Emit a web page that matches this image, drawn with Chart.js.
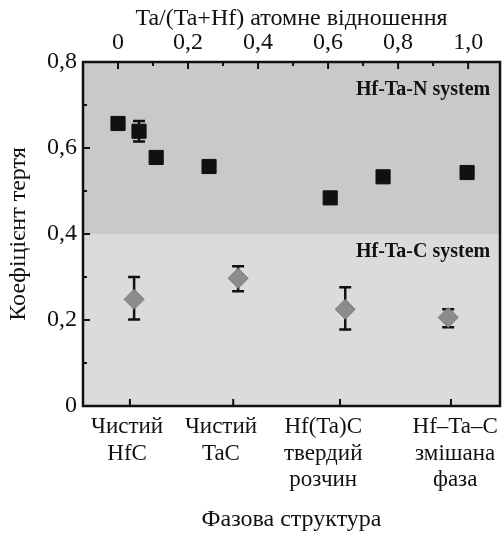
<!DOCTYPE html>
<html>
<head>
<meta charset="utf-8">
<script src="https://cdn.jsdelivr.net/npm/chart.js@4"></script>
<style>
  html, body { margin: 0; padding: 0; background: #fff; }
  #wrap { width: 502px; height: 533px; }
</style>
</head>
<body>
<div id="wrap"><canvas id="friction"></canvas></div>
<script>
// Ta/(Ta+Hf) ratio along the top axis, friction coefficient on y
const nSystemX = [0.0, 0.06, 0.109, 0.26, 0.606, 0.757, 0.997];
const nSystemY = [0.657, 0.639, 0.578, 0.557, 0.484, 0.533, 0.543];
const nSystemErr = [0, 0.024, 0, 0, 0, 0, 0];

const cSystemX = [0.046, 0.343, 0.649, 0.943];
const cSystemY = [0.248, 0.297, 0.225, 0.206];
const cSystemLow = [0.201, 0.267, 0.178, 0.183];
const cSystemHigh = [0.300, 0.325, 0.276, 0.225];

// bottom axis: phase structure categories
const phaseLabels = [
  ['Чистий', 'HfC'],
  ['Чистий', 'TaC'],
  ['Hf(Ta)C', 'твердий', 'розчин'],
  ['Hf–Ta–C', 'змішана', 'фаза']
];
const phaseLabelPos = [0.026, 0.294, 0.586, 0.963];
const phaseTickPos = [0.034, 0.329, 0.634, 0.951];

const ratioTicks = [0, 0.2, 0.4, 0.6, 0.8, 1.0];
const ratioMinor = [0.1, 0.3, 0.5, 0.7, 0.9];
const yTicks = [0, 0.2, 0.4, 0.6, 0.8];
const yMinor = [0.1, 0.3, 0.5, 0.7];

const xMin = -0.1, xMax = 1.091;
const bandSplit = 0.4;

const systemLabels = [
  { text: 'Hf-Ta-N system', x: 1.063, y: 0.735 },
  { text: 'Hf-Ta-C system', x: 1.063, y: 0.358 }
];

const serif = "'Liberation Serif', 'Times New Roman', serif";
const fmt = v => (v === 0 ? '0' : v.toFixed(1).replace('.', ','));

const framePlugin = {
  id: 'frame',
  beforeDatasetsDraw(chart) {
    const { ctx, chartArea: a, scales } = chart;
    const ySplit = scales.y.getPixelForValue(bandSplit);
    ctx.save();
    ctx.fillStyle = '#c9c9c9';
    ctx.fillRect(a.left, a.top, a.right - a.left, ySplit - a.top);
    ctx.fillStyle = '#dbdbdb';
    ctx.fillRect(a.left, ySplit, a.right - a.left, a.bottom - ySplit);

    // error bars sit behind the markers
    ctx.strokeStyle = '#111';
    ctx.lineWidth = 2.5;
    const bar = (xv, lo, hi) => {
      const px = scales.x.getPixelForValue(xv);
      const y1 = scales.y.getPixelForValue(lo);
      const y2 = scales.y.getPixelForValue(hi);
      ctx.beginPath();
      ctx.moveTo(px, y1); ctx.lineTo(px, y2);
      ctx.moveTo(px - 6, y1); ctx.lineTo(px + 6, y1);
      ctx.moveTo(px - 6, y2); ctx.lineTo(px + 6, y2);
      ctx.stroke();
    };
    nSystemX.forEach((xv, i) => {
      if (nSystemErr[i] > 0) bar(xv, nSystemY[i] - nSystemErr[i], nSystemY[i] + nSystemErr[i]);
    });
    cSystemX.forEach((xv, i) => bar(xv, cSystemLow[i], cSystemHigh[i]));
    ctx.restore();
  },
  afterDatasetsDraw(chart) {
    const { ctx, chartArea: a, scales } = chart;
    ctx.save();
    ctx.strokeStyle = '#111';

    // inner tick marks
    ctx.lineWidth = 2;
    ctx.beginPath();
    yTicks.forEach(v => {
      const py = scales.y.getPixelForValue(v);
      ctx.moveTo(a.left, py); ctx.lineTo(a.left + 7, py);
    });
    yMinor.forEach(v => {
      const py = scales.y.getPixelForValue(v);
      ctx.moveTo(a.left, py); ctx.lineTo(a.left + 4, py);
    });
    ratioTicks.forEach(v => {
      const px = scales.x2.getPixelForValue(v);
      ctx.moveTo(px, a.top); ctx.lineTo(px, a.top + 7);
    });
    ratioMinor.forEach(v => {
      const px = scales.x2.getPixelForValue(v);
      ctx.moveTo(px, a.top); ctx.lineTo(px, a.top + 4);
    });
    phaseTickPos.forEach(v => {
      const px = scales.x.getPixelForValue(v);
      ctx.moveTo(px, a.bottom); ctx.lineTo(px, a.bottom - 7);
    });
    ctx.stroke();

    ctx.lineWidth = 2.5;
    ctx.strokeRect(a.left, a.top, a.right - a.left, a.bottom - a.top);

    ctx.fillStyle = '#111';
    ctx.font = 'bold 20px ' + serif;
    ctx.textAlign = 'right';
    ctx.textBaseline = 'middle';
    systemLabels.forEach(l => {
      ctx.fillText(l.text, scales.x.getPixelForValue(l.x), scales.y.getPixelForValue(l.y));
    });
    ctx.restore();
  }
};

const fixSize = (prop, size) => scale => {
  scale[prop] = size;
  scale.paddingLeft = 0; scale.paddingRight = 0;
  scale.paddingTop = 0; scale.paddingBottom = 0;
};

new Chart(document.getElementById('friction'), {
  type: 'scatter',
  data: {
    datasets: [
      {
        label: 'Hf-Ta-N',
        data: nSystemX.map((x, i) => ({ x, y: nSystemY[i] })),
        pointStyle: 'rect',
        pointRadius: 10,
        pointHoverRadius: 10,
        backgroundColor: '#111',
        borderColor: '#111',
        borderWidth: 1
      },
      {
        label: 'Hf-Ta-C',
        data: cSystemX.map((x, i) => ({ x, y: cSystemY[i] })),
        pointStyle: 'rectRot',
        pointRadius: 10,
        pointHoverRadius: 10,
        backgroundColor: '#8c8c8c',
        borderColor: '#777',
        borderWidth: 1
      }
    ]
  },
  options: {
    responsive: true,
    maintainAspectRatio: false,
    animation: false,
    layout: { autoPadding: false, padding: { top: 0, left: 0, right: 2, bottom: 0 } },
    plugins: { legend: { display: false }, tooltip: { enabled: false } },
    scales: {
      x: {
        type: 'linear',
        position: 'bottom',
        min: xMin, max: xMax,
        grid: { display: false, drawTicks: false },
        border: { display: false },
        afterBuildTicks: s => { s.ticks = phaseLabelPos.map(v => ({ value: v })); },
        afterFit: fixSize('height', 127),
        ticks: {
          autoSkip: false, maxRotation: 0, minRotation: 0, padding: 8,
          color: '#111',
          font: { family: serif, size: 23, lineHeight: 1.15 },
          callback: (v, i) => phaseLabels[i]
        },
        title: {
          display: true, text: 'Фазова структура', color: '#111',
          font: { family: serif, size: 24, lineHeight: 1.0 }, padding: { top: 0, bottom: 1 }
        }
      },
      x2: {
        type: 'linear',
        position: 'top',
        min: xMin, max: xMax,
        grid: { display: false, drawTicks: false },
        border: { display: false },
        afterBuildTicks: s => { s.ticks = ratioTicks.map(v => ({ value: v })); },
        afterFit: fixSize('height', 62),
        ticks: {
          autoSkip: false, maxRotation: 0, padding: 5, color: '#111',
          font: { family: serif, size: 24 },
          callback: v => fmt(v)
        },
        title: {
          display: true, text: 'Ta/(Ta+Hf) атомне відношення', color: '#111',
          font: { family: serif, size: 24 }, padding: { top: 4, bottom: 0 }
        }
      },
      y: {
        min: 0, max: 0.8,
        grid: { display: false, drawTicks: false },
        border: { display: false },
        afterBuildTicks: s => { s.ticks = yTicks.map(v => ({ value: v })); },
        afterFit: fixSize('width', 83),
        ticks: {
          padding: 6, color: '#111',
          font: { family: serif, size: 24 },
          callback: v => fmt(v)
        },
        title: {
          display: true, text: 'Коефіцієнт тертя', color: '#111',
          font: { family: serif, size: 24 }, padding: { top: 4, bottom: 0 }
        }
      }
    }
  },
  plugins: [framePlugin]
});
</script>
</body>
</html>
